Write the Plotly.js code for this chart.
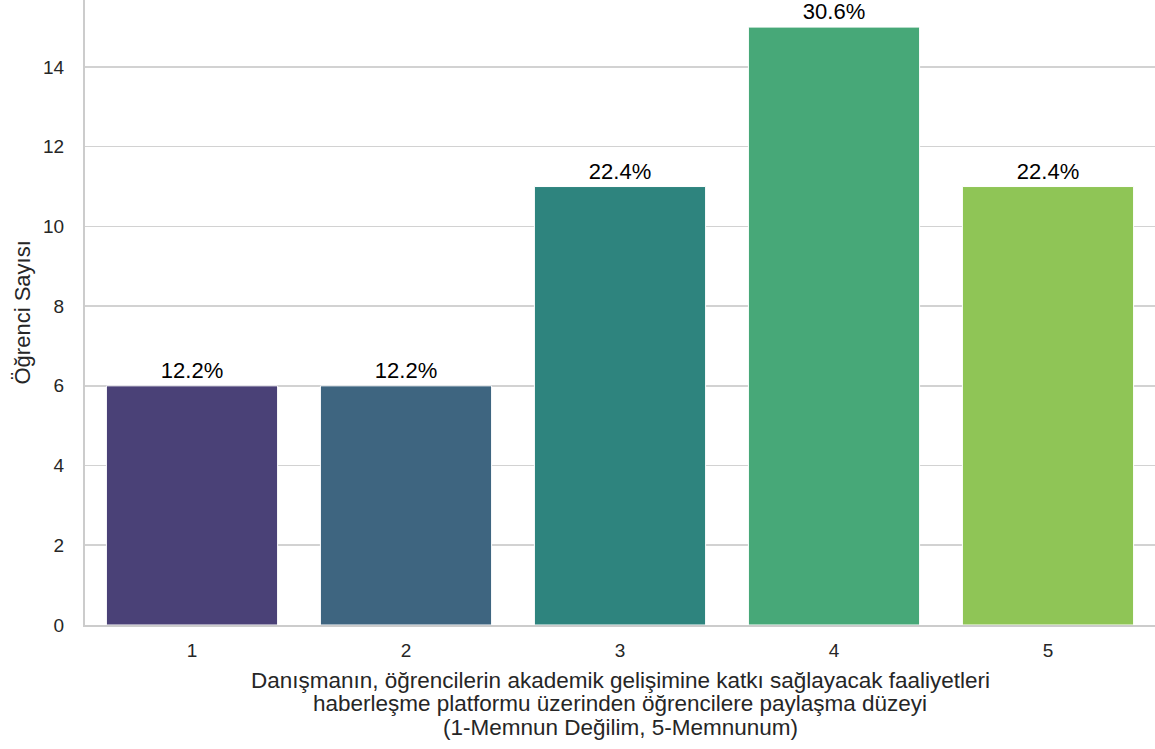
<!DOCTYPE html>
<html>
<head>
<meta charset="utf-8">
<script src="https://cdn.plot.ly/plotly-3.0.1.min.js"></script>
<style>html,body{margin:0;padding:0;background:#fff;}#chart{width:1155px;height:749px;}</style>
</head>
<body>
<div id="chart"></div>
<script>
const categories = ["1", "2", "3", "4", "5"];
const counts = [6, 6, 11, 15, 11];
const percentLabels = ["12.2%", "12.2%", "22.4%", "30.6%", "22.4%"];
const barColors = ["#4a4177", "#3e6580", "#2e847e", "#47a878", "#8fc556"];
const yTicks = [0, 2, 4, 6, 8, 10, 12, 14];
const xTitleLines = [
  "Danışmanın, öğrencilerin akademik gelişimine katkı sağlayacak faaliyetleri",
  "haberleşme platformu üzerinden öğrencilere paylaşma düzeyi",
  "(1-Memnun Değilim, 5-Memnunum)"
];
const yTitle = "Öğrenci Sayısı";

const font = "Liberation Sans, Arial, sans-serif";
const textColor = "#262626";

const trace = {
  type: "bar",
  x: categories,
  y: counts,
  marker: {color: barColors, line: {color: "#ffffff", width: 1}},
  width: 0.8,
  text: percentLabels,
  textposition: "outside",
  cliponaxis: false,
  textfont: {family: font, size: 22, color: "#000000"},
  hoverinfo: "none"
};

const annotations = xTitleLines.map((t, i) => ({
  text: t,
  xref: "paper", yref: "paper",
  x: 0.5, y: 0,
  xanchor: "center", yanchor: "middle",
  yshift: -(55 + i * 23.5),
  showarrow: false,
  font: {family: font, size: 22.5, color: textColor}
}));
annotations.push({
  text: yTitle,
  xref: "paper", yref: "paper",
  x: 0, y: 0.5,
  xanchor: "center", yanchor: "middle",
  xshift: -63,
  textangle: -90,
  showarrow: false,
  font: {family: font, size: 22, color: textColor}
});

const layout = {
  width: 1155,
  height: 749,
  margin: {l: 85, r: 0, t: 0, b: 124, pad: 0},
  paper_bgcolor: "#ffffff",
  plot_bgcolor: "#ffffff",
  showlegend: false,
  bargap: 0.2,
  font: {family: font, size: 19, color: textColor},
  annotations: annotations,
  xaxis: {
    type: "category",
    range: [-0.5, 4.5],
    showgrid: false,
    showline: true,
    linecolor: "#cccccc",
    linewidth: 2,
    ticks: "outside",
    ticklen: 7,
    tickcolor: "rgba(0,0,0,0)",
    tickfont: {family: font, size: 19, color: textColor},
    zeroline: false
  },
  yaxis: {
    range: [0, 15.68],
    tickvals: yTicks,
    ticktext: yTicks.map(String),
    showgrid: true,
    gridcolor: "#d2d2d2",
    gridwidth: 1.6,
    showline: true,
    linecolor: "#cccccc",
    linewidth: 2,
    zeroline: false,
    ticks: "outside",
    ticklen: 15,
    tickcolor: "rgba(0,0,0,0)",
    tickfont: {family: font, size: 19, color: textColor}
  }
};

Plotly.newPlot("chart", [trace], layout, {displayModeBar: false, staticPlot: true});
</script>
</body>
</html>
